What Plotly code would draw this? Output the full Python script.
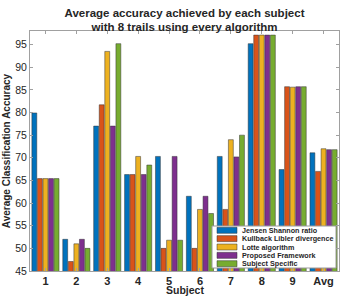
import plotly.graph_objects as go

subjects = ["1", "2", "3", "4", "5", "6", "7", "8", "9", "Avg"]
series_names = ["Jensen Shannon ratio", "Kullback Libler divergence", "Lotte algorithm",
                "Proposed Framework", "Subject Specific"]
jensen = [79.9, 52.0, 77.0, 66.3, 70.3, 61.5, 70.3, 95.2, 67.4, 71.1]
kullback = [65.4, 47.1, 81.7, 66.3, 50.0, 50.0, 58.6, 97.1, 85.7, 67.0]
lotte = [65.4, 51.0, 93.5, 70.3, 51.8, 58.6, 74.0, 97.1, 85.6, 72.0]
proposed = [65.4, 52.0, 77.0, 66.3, 70.3, 61.5, 70.2, 97.1, 85.7, 71.8]
specific = [65.4, 50.0, 95.2, 68.4, 51.8, 57.7, 75.0, 97.1, 85.7, 71.8]
colors = ["#0072BD", "#D95319", "#EDB120", "#7E2F8E", "#77AC30"]
y_ticks = [45, 50, 55, 60, 65, 70, 75, 80, 85, 90, 95]

FONT = "Liberation Sans"
TXT = "#262626"
W, H = 342, 296
ML, MR, MT, MB = 30, 3, 31, 25

fig = go.Figure()
for name, vals, col in zip(series_names, [jensen, kullback, lotte, proposed, specific], colors):
    fig.add_trace(go.Bar(x=subjects, y=vals, name=name, marker_color=col,
                         marker_line=dict(color="#333333", width=0.5), showlegend=False))

# manual compact legend (MATLAB style)
pw, ph = W - ML - MR, H - MT - MB
def px(xp):
    return (xp - ML) / pw
def py(yp):
    return (H - MB - yp) / ph

shapes = [dict(type="rect", xref="paper", yref="paper", x0=px(212), x1=px(336), y0=py(268), y1=py(226),
               fillcolor="white", line=dict(color="#9a9a9a", width=1), layer="above")]
annotations = []
for i, (name, col) in enumerate(zip(series_names, colors)):
    cy = 230.3 + i * 8.35
    shapes.append(dict(type="rect", xref="paper", yref="paper", x0=px(217), x1=px(237),
                       y0=py(cy + 3), y1=py(cy - 3), fillcolor=col,
                       line=dict(color="#333333", width=0.5), layer="above"))
    annotations.append(dict(text="<b>" + name + "</b>", xref="paper", yref="paper",
                            x=px(240), y=py(cy), xanchor="left", yanchor="middle",
                            showarrow=False, font=dict(family=FONT, size=7.2, color=TXT)))
# x-axis title at the bottom edge
annotations.append(dict(text="<b>Subject</b>", xref="paper", yref="paper", x=0.5, y=py(290.3),
                        xanchor="center", yanchor="middle", showarrow=False,
                        font=dict(family=FONT, size=10.5, color=TXT)))

fig.update_layout(
    width=W, height=H,
    margin=dict(l=ML, r=MR, t=MT, b=MB, autoexpand=False),
    paper_bgcolor="white", plot_bgcolor="white",
    barmode="group", bargap=0.1, bargroupgap=0.12,
    title=dict(text="<b>Average accuracy achieved by each subject<br>with 8 trails using every algorithm</b>",
               x=(ML + pw / 2) / W, xanchor="center", y=1 - 16.5 / H, yanchor="middle", yref="container",
               font=dict(family=FONT, size=11.5, color=TXT)),
    shapes=shapes, annotations=annotations,
    font=dict(family=FONT, color=TXT),
)
fig.update_xaxes(type="category", automargin=False, showline=True, linecolor="#a0a0a0", linewidth=1,
                 mirror="ticks", ticks="inside", ticklen=3, tickcolor="#a0a0a0", showgrid=False,
                 ticklabelstandoff=0,
                 tickfont=dict(family=FONT, size=11, color=TXT), tickprefix="<b>", ticksuffix="</b>")
fig.update_yaxes(range=[45, 98], tickvals=y_ticks, automargin=False, showline=True, linecolor="#a0a0a0",
                 linewidth=1, mirror="ticks", ticks="inside", ticklen=3, tickcolor="#a0a0a0",
                 showgrid=False, zeroline=False, tickfont=dict(family=FONT, size=10.5, color=TXT),
                 tickprefix="<b>", ticksuffix="</b>",
                 title=dict(text="<b>Average Classification Accuracy</b>",
                            font=dict(family=FONT, size=10, color=TXT), standoff=2))
fig.write_html("out.html")
